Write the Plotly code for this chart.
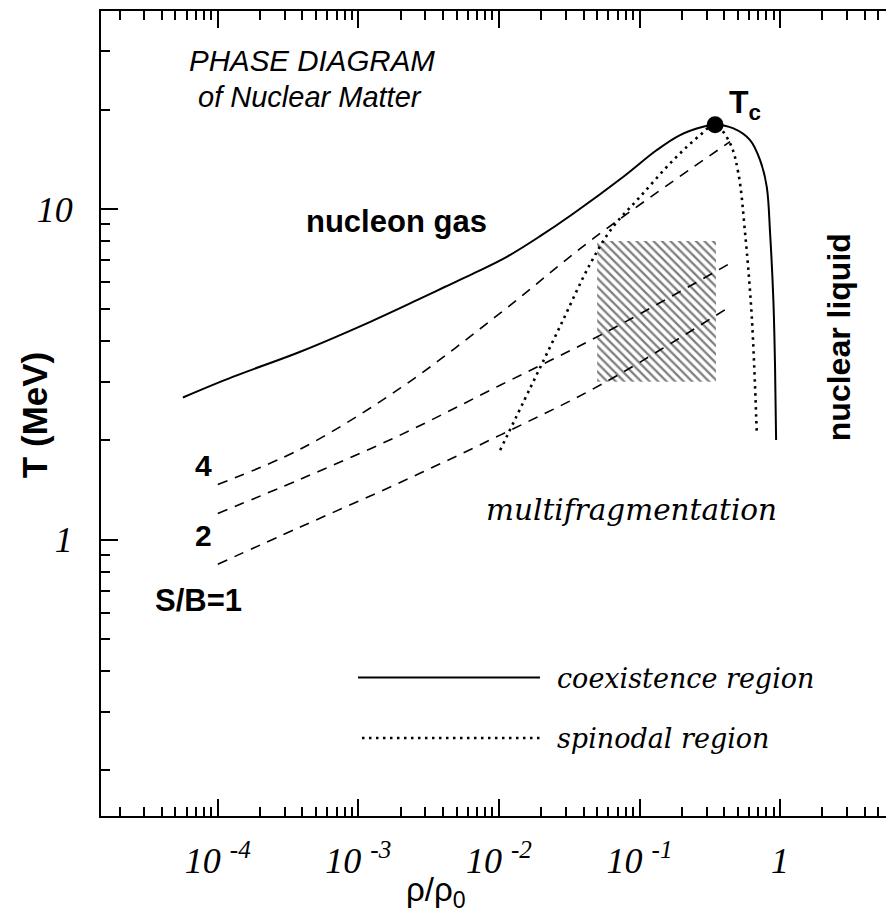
import plotly.graph_objects as go

# coexistence (solid) curve
coex_rho = [5.65e-5, 1.29e-4, 3.86e-4, 1.15e-3, 2.61e-3, 4.14e-3, 6.77e-3, 0.01138, 0.01963, 0.0339,
            0.0768, 0.1328, 0.1944, 0.2833, 0.345, 0.4656, 0.6116, 0.7207, 0.804, 0.849, 0.896,
            0.921, 0.937]
coex_T = [2.69, 3.11, 3.70, 4.51, 5.30, 5.82, 6.42, 7.17, 8.28, 9.70,
          12.53, 15.09, 16.75, 17.75, 18.0, 17.55, 16.18, 14.07, 11.68, 8.46, 5.30,
          3.33, 2.0]

# spinodal (dotted) curve
spin_rho = [0.0102, 0.01667, 0.02724, 0.04453, 0.0638, 0.101, 0.174, 0.270, 0.345,
            0.441, 0.505, 0.564, 0.629, 0.683]
spin_T = [1.864, 2.87, 4.42, 6.82, 8.76, 10.9, 14.07, 16.75, 18.0,
          15.8, 12.83, 8.44, 4.72, 2.09]

# isentropes S/B = 4, 2, 1 (dashed)
sb4_rho = [1e-4, 3.86e-4, 1.983e-3, 0.0102, 0.047, 0.441]
sb4_T = [1.467, 1.877, 2.87, 4.84, 8.15, 16.0]
sb2_rho = [1e-4, 3.86e-4, 1.983e-3, 0.0102, 0.0554, 0.441]
sb2_T = [1.199, 1.522, 2.07, 2.93, 4.20, 6.85]
sb1_rho = [1e-4, 3.86e-4, 1.983e-3, 0.0102, 0.0554, 0.418]
sb1_T = [0.842, 1.091, 1.488, 2.07, 2.97, 5.0]

# critical point
tc_rho = [0.345]
tc_T = [18.0]

# hatched multifragmentation box
box_rho = [0.05, 0.35, 0.35, 0.05, 0.05]
box_T = [3, 3, 8, 8, 3]

# axis ticks
x_tickvals = [1e-4, 1e-3, 1e-2, 1e-1, 1]
x_ticktext = ["10 <sup>-4</sup>", "10 <sup>-3</sup>", "10 <sup>-2</sup>", "10 <sup>-1</sup>", "1"]
y_tickvals = [1, 10]
y_ticktext = ["1", "10"]

fig = go.Figure()

fig.add_trace(go.Scatter(x=box_rho, y=box_T, mode="lines", fill="toself",
                         line=dict(width=0), fillcolor="rgba(0,0,0,0)",
                         fillpattern=dict(shape="\\", size=6, solidity=0.38,
                                          fgcolor="black", bgcolor="rgba(255,255,255,0)")))

dash_style = dict(color="black", width=1.6, dash="10px,8px", shape="spline")
for r, t in [(sb4_rho, sb4_T), (sb2_rho, sb2_T), (sb1_rho, sb1_T)]:
    fig.add_trace(go.Scatter(x=r, y=t, mode="lines", line=dash_style))

fig.add_trace(go.Scatter(x=spin_rho, y=spin_T, mode="lines",
                         line=dict(color="black", width=2.6, dash="2.5px,4.5px", shape="spline")))
fig.add_trace(go.Scatter(x=coex_rho, y=coex_T, mode="lines",
                         line=dict(color="black", width=2, shape="spline")))
fig.add_trace(go.Scatter(x=tc_rho, y=tc_T, mode="markers",
                         marker=dict(color="black", size=17)))

sans = "Liberation Sans"
serif = "Liberation Serif"

def label(text, x, y, size, family=sans, weight="bold", style="normal", angle=0,
          xanchor="center", ref="x"):
    fig.add_annotation(text=text, x=x, y=y, xref=ref, yref=ref.replace("x", "y"),
                       showarrow=False, textangle=angle, xanchor=xanchor, yanchor="middle",
                       font=dict(family=family, size=size, weight=weight, style=style, color="black"))

label("PHASE DIAGRAM", -3.332, 1.451, 29.5, weight="normal", style="italic")
label("of Nuclear Matter", -3.343, 1.339, 29, weight="normal", style="italic")
label("nucleon gas", -2.728, 0.961, 31)
label("T<sub>c</sub>", -0.377, 1.318, 32, xanchor="left")
label("nuclear liquid", 0.4196, 0.6125, 32, angle=-90)
label("4", -4.100, 0.225, 30)
label("2", -4.100, 0.013, 30)
label("S/B=1", -4.139, -0.184, 31)
label("multifragmentation", -1.06, 0.089, 29.5, family="DejaVu Serif", weight="normal", style="italic")
label("coexistence region", -1.600, -0.420, 27, family="DejaVu Serif", weight="normal",
      style="italic", xanchor="left")
label("spinodal region", -1.600, -0.602, 27, family="DejaVu Serif", weight="normal",
      style="italic", xanchor="left")

# axis titles as free annotations (they sit off-centre in the original)
label("ρ/ρ<sub>0</sub>", 0.4151, -0.094, 33, weight="normal", ref="paper")
label("T (MeV)", -0.083, 0.498, 35, angle=-90, ref="paper")

# legend keys
fig.add_shape(type="line", xref="paper", yref="paper", x0=0.3185, x1=0.544, y0=0.172, y1=0.172,
              line=dict(color="black", width=2))
fig.add_shape(type="line", xref="paper", yref="paper", x0=0.3234, x1=0.544, y0=0.0969, y1=0.0969,
              line=dict(color="black", width=2.6, dash="2.5px,4.5px"))

tickfont = dict(family=serif, size=36, style="italic", color="black")
fig.update_xaxes(type="log", range=[-4.8307, 0.910], tickvals=x_tickvals, ticktext=x_ticktext,
                 ticks="inside", ticklen=17, tickwidth=1.5, tickcolor="black",
                 minor=dict(ticks="inside", ticklen=9, tickwidth=1.5, tickcolor="black", dtick="D1"),
                 showline=True, linewidth=2, linecolor="black", mirror="allticks",
                 showgrid=False, zeroline=False, tickfont=tickfont, ticklabelstandoff=12,
                 automargin=False)
fig.update_yaxes(type="log", range=[-0.8368, 1.5995], tickvals=y_tickvals, ticktext=y_ticktext,
                 ticks="inside", ticklen=17, tickwidth=1.5, tickcolor="black",
                 minor=dict(ticks="inside", ticklen=9, tickwidth=1.5, tickcolor="black", dtick="D1"),
                 showline=True, linewidth=2, linecolor="black", mirror="allticks",
                 showgrid=False, zeroline=False, tickfont=tickfont, ticklabelstandoff=19,
                 automargin=False)

# the page adds an 8px body margin, so the figure is offset to land on the reference frame
fig.update_layout(width=900, height=915, margin=dict(l=93, r=0, t=3, b=107),
                  plot_bgcolor="white", paper_bgcolor="white", showlegend=False)

fig.write_html("out.html")
